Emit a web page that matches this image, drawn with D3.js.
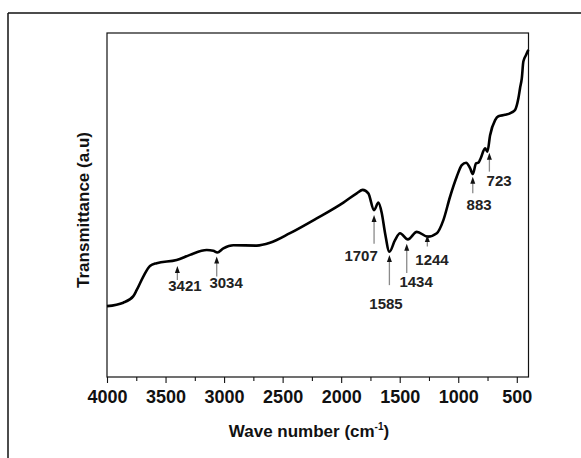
<!DOCTYPE html>
<html>
<head>
  <script src="https://d3js.org/d3.v7.min.js"></script>
  <style>
    body { margin: 0; background: #fff; }
    svg { display: block; font-family: "Liberation Sans", Arial, sans-serif; }
    .tick-label { font-size: 18px; font-weight: bold; fill: #111; }
    .title { font-size: 17px; font-weight: bold; fill: #111; }
    .peak-label { font-size: 15px; font-weight: bold; fill: #222; }
    .spectrum { fill: none; stroke: #000; stroke-width: 2.6; stroke-linejoin: round; }
  </style>
</head>
<body>
  <svg id="chart"></svg>
  <script>
    // FTIR spectrum (arbitrary units, 0 = bottom of frame)
    var waveNumber = [4000, 3861, 3775, 3746, 3690, 3633, 3576, 3405, 3291, 3148, 3092, 3058, 3006, 2921,
      2721, 2608, 2437, 2209, 1981, 1867, 1816, 1768, 1719, 1682, 1653, 1625, 1588, 1540, 1497, 1430,
      1354, 1260, 1183, 1127, 1070, 1013, 970, 933, 899, 876, 848, 828, 808, 771, 751, 728, 685, 657,
      600, 543, 515, 486, 472, 457, 444, 421, 401];
    var transmittance = [20.6, 21.6, 23.5, 25.3, 29.2, 32.3, 33.1, 34.0, 35.5, 36.9, 36.7, 36.2, 37.4, 38.3,
      38.2, 39.0, 41.8, 46.1, 50.7, 53.4, 54.4, 53.4, 48.5, 50.7, 47.6, 41.8, 36.4, 39.8, 41.8, 40.0,
      42.2, 40.8, 41.8, 45.6, 52.4, 58.2, 61.6, 62.3, 60.7, 59.0, 62.1, 62.3, 63.6, 66.5, 65.5, 70.3, 74.7, 75.8,
      76.2, 76.9, 77.6, 81.1, 84.0, 86.9, 91.7, 93.6, 95.1];

    // peak annotations: label, arrow position, arrow tip / tail, label position
    var peakLabels = ["3421", "3034", "1707", "1585", "1434", "1244", "883", "723"];
    var peakPos = [3399, 3063, 1719, 1588, 1440, 1264, 876, 734];
    var arrowTop = [32.3, 35.0, 47.1, 35.5, 38.7, 41.3, 58.2, 65.2];
    var arrowBottom = [28.2, 29.2, 38.7, 26.7, 30.2, 37.9, 53.4, 59.7];
    var labelPos = [3334, 2983, 1830, 1617, 1360, 1224, 822, 651];
    var labelBase = [25.1, 25.9, 33.8, 19.8, 26.2, 32.6, 48.5, 55.6];

    var majorTicks = [4000, 3500, 3000, 2500, 2000, 1500, 1000, 500];
    var minorTicks = [3750, 3250, 2750, 2250, 1750, 1250, 750];

    var W = 581, H = 458;
    var margin = { top: 33, right: 52.5, bottom: 81, left: 107 };
    var width = W - margin.left - margin.right;
    var height = H - margin.top - margin.bottom;

    var svg = d3.select("#chart").attr("width", W).attr("height", H);

    // outer figure border (top + left only visible)
    svg.append("line").attr("x1", 8).attr("y1", 13).attr("x2", W).attr("y2", 13)
      .attr("stroke", "#111").attr("stroke-width", 1.5);
    svg.append("line").attr("x1", 8).attr("y1", 13).attr("x2", 8).attr("y2", H)
      .attr("stroke", "#111").attr("stroke-width", 1.5);

    var g = svg.append("g").attr("transform", "translate(" + margin.left + "," + margin.top + ")");

    var x = d3.scaleLinear().domain([4000, 400]).range([0, width]);
    var y = d3.scaleLinear().domain([0, 100]).range([height, 0]);

    // frame
    g.append("rect").attr("width", width).attr("height", height)
      .attr("fill", "none").attr("stroke", "#111").attr("stroke-width", 1.2);

    // x axis
    var xAxis = g.append("g").attr("transform", "translate(0," + height + ")")
      .call(d3.axisBottom(x).tickValues(majorTicks).tickSize(6).tickPadding(7).tickFormat(d3.format("d")));
    xAxis.select(".domain").remove();
    xAxis.selectAll("line").attr("stroke", "#111").attr("stroke-width", 1.1);
    xAxis.selectAll("text").attr("class", "tick-label").attr("fill", "#111");

    var xMinor = g.append("g").attr("transform", "translate(0," + height + ")")
      .call(d3.axisBottom(x).tickValues(minorTicks).tickSize(4).tickFormat(""));
    xMinor.select(".domain").remove();
    xMinor.selectAll("line").attr("stroke", "#111").attr("stroke-width", 1.1);

    // spectrum
    var data = waveNumber.map(function(d, i) { return { wn: d, t: transmittance[i] }; });
    g.append("path")
      .datum(data)
      .attr("class", "spectrum")
      .attr("d", d3.line()
        .x(function(d) { return x(d.wn); })
        .y(function(d) { return y(d.t); })
        .curve(d3.curveMonotoneX));

    // peak arrows
    var peaks = peakLabels.map(function(d, i) {
      return { label: d, pos: peakPos[i], top: arrowTop[i], bottom: arrowBottom[i], lx: labelPos[i], ly: labelBase[i] };
    });

    var pk = g.selectAll(".peak").data(peaks).enter().append("g").attr("class", "peak");
    pk.append("line")
      .attr("x1", function(d) { return x(d.pos); })
      .attr("x2", function(d) { return x(d.pos); })
      .attr("y1", function(d) { return y(d.top) + 5; })
      .attr("y2", function(d) { return y(d.bottom); })
      .attr("stroke", "#8a8a8a").attr("stroke-width", 1.3);
    pk.append("path")
      .attr("d", function(d) {
        var px = x(d.pos), py = y(d.top);
        return "M" + px + "," + py + "L" + (px - 2.5) + "," + (py + 7) + "L" + (px + 2.5) + "," + (py + 7) + "Z";
      })
      .attr("fill", "#111");
    pk.append("text")
      .attr("class", "peak-label")
      .attr("x", function(d) { return x(d.lx); })
      .attr("y", function(d) { return y(d.ly); })
      .attr("text-anchor", "middle")
      .text(function(d) { return d.label; });

    // axis titles
    var xt = svg.append("text").attr("class", "title")
      .attr("x", 309).attr("y", 437).attr("text-anchor", "middle");
    xt.append("tspan").text("Wave number (cm");
    xt.append("tspan").attr("dy", -7).style("font-size", "10px").text("-1");
    xt.append("tspan").attr("dy", 7).text(")");

    svg.append("text").attr("class", "title")
      .attr("transform", "translate(89,210) rotate(-90)")
      .attr("text-anchor", "middle")
      .text("Transmittance (a.u)");
  </script>
</body>
</html>
